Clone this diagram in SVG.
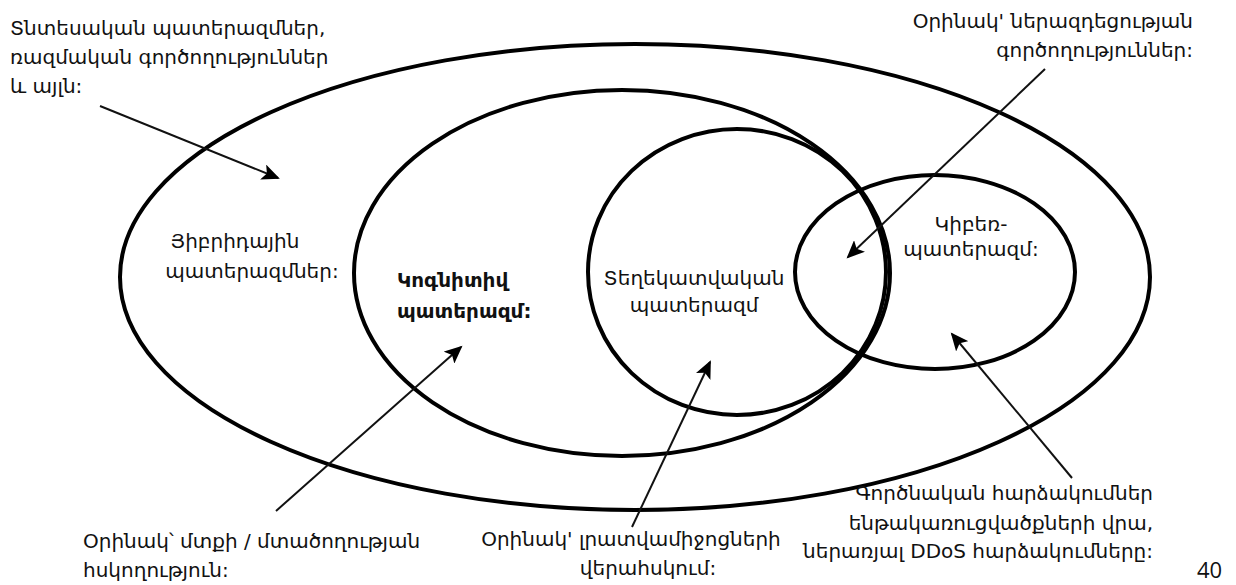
<svg xmlns="http://www.w3.org/2000/svg" width="1236" height="585" viewBox="0 0 1236 585">
<style>
  .ring { fill: none; stroke: #000; stroke-width: 4; }
  .arrow { stroke: #111; stroke-width: 2; fill: none; marker-end: url(#head); }
  text { font-family: "DejaVu Sans", "Noto Sans", sans-serif; font-size: 20px; fill: #111; }
  .bold { font-weight: bold; }
  .num { font-family: "Open Sans", "Liberation Sans", sans-serif; font-size: 22px; }
</style>
<defs>
  <marker id="head" markerUnits="userSpaceOnUse" markerWidth="20" markerHeight="16" refX="16" refY="8" orient="auto">
    <path d="M0,0 L18,8 L0,16 L4,8 z" fill="#000"/>
  </marker>
</defs>
<rect width="1236" height="585" fill="#fff"/>
<g id="hybrid">
  <ellipse class="ring" cx="635" cy="277" rx="515" ry="233"/>
  <text x="235" y="248" text-anchor="middle">Յիբրիդային</text>
  <text x="252" y="278" text-anchor="middle">պատերազմներ:</text>
</g>
<g id="cognitive">
  <ellipse class="ring" cx="622" cy="273" rx="268" ry="183"/>
  <text class="bold" x="397" y="287">Կոգնիտիվ</text>
  <text class="bold" x="397" y="318">պատերազմ:</text>
</g>
<g id="information">
  <ellipse class="ring" cx="737" cy="272" rx="149" ry="143"/>
  <text x="694" y="285" text-anchor="middle">Տեղեկատվական</text>
  <text x="694" y="312" text-anchor="middle">պատերազմ</text>
</g>
<g id="cyber">
  <ellipse class="ring" cx="935" cy="272" rx="140" ry="97"/>
  <text x="971" y="231" text-anchor="middle">Կիբեռ-</text>
  <text x="971" y="256" text-anchor="middle">պատերազմ:</text>
</g>
<g id="note-economic">
  <text x="10" y="35">Տնտեսական պատերազմներ,</text>
  <text x="10" y="64">ռազմական գործողություններ</text>
  <text x="10" y="93">և այլն:</text>
</g>
<g id="note-influence">
  <text x="1193" y="28" text-anchor="end">Օրինակ' ներազդեցության</text>
  <text x="1193" y="57" text-anchor="end">գործողություններ:</text>
</g>
<g id="note-mind">
  <text x="83" y="548">Օրինակ՝ մտքի / մտածողության</text>
  <text x="83" y="577">հսկողություն:</text>
</g>
<g id="note-media">
  <text x="631" y="546" text-anchor="middle">Օրինակ' լրատվամիջոցների</text>
  <text x="648" y="575" text-anchor="middle">վերահսկում:</text>
</g>
<g id="note-attacks">
  <text x="1153" y="500" text-anchor="end">Գործնական հարձակումներ</text>
  <text x="1153" y="530" text-anchor="end">ենթակառուցվածքների վրա,</text>
  <text x="1153" y="558" text-anchor="end">ներառյալ DDoS հարձակումները:</text>
</g>
<text class="num" x="1197" y="578">40</text>
<g id="connectors">
  <line class="arrow" x1="100" y1="106" x2="278" y2="178"/>
  <line class="arrow" x1="1045" y1="69" x2="848" y2="257"/>
  <line class="arrow" x1="276" y1="511" x2="461" y2="347"/>
  <line class="arrow" x1="632" y1="527" x2="710" y2="362"/>
  <line class="arrow" x1="1072" y1="478" x2="952" y2="334"/>
</g>
</svg>
